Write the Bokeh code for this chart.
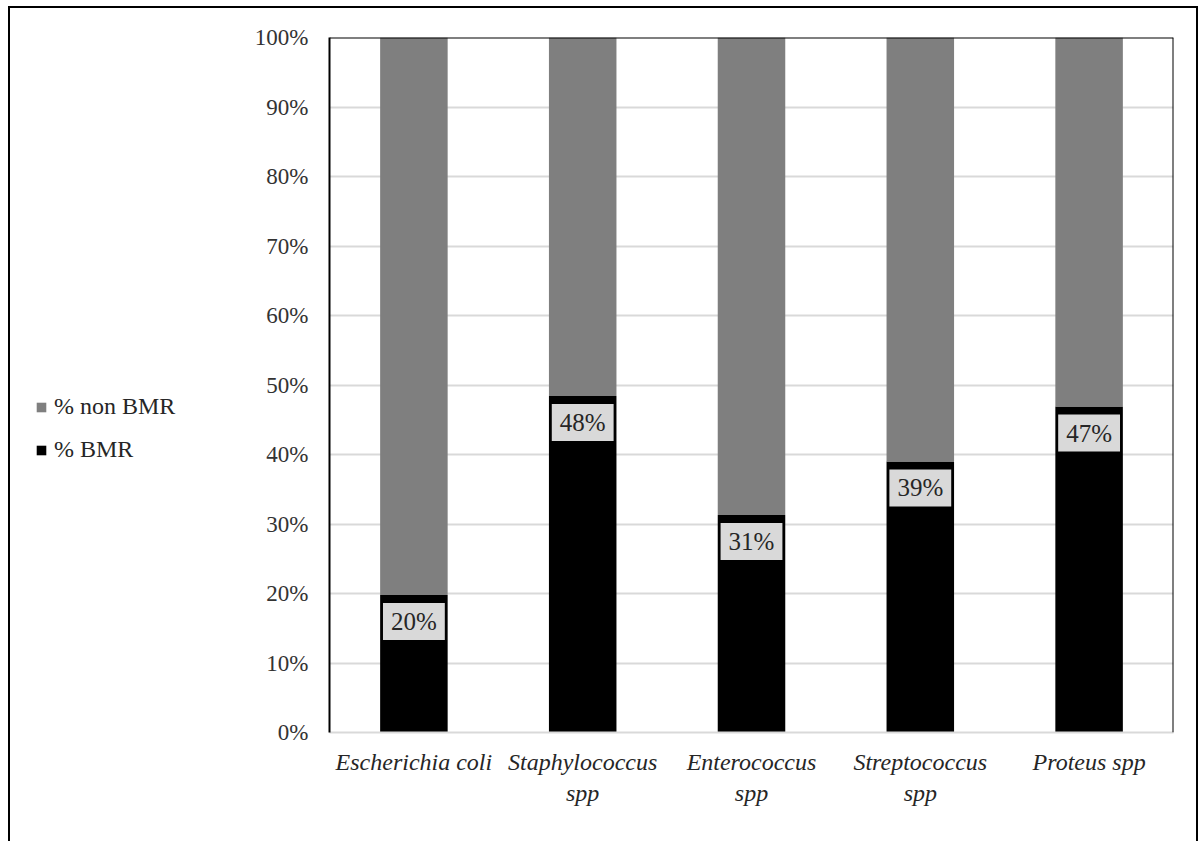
from bokeh.plotting import figure
from bokeh.layouts import row
from bokeh.models import (Legend, LegendItem, FixedTicker, PrintfTickFormatter,
                          Span, ColumnDataSource, CategoricalAxis, CustomJSTickFormatter)
from bokeh.core.properties import value
from bokeh.embed import file_html
from bokeh.resources import INLINE

# ---- data ----
categories = ["Escherichia coli", "Staphylococcus spp", "Enterococcus spp",
              "Streptococcus spp", "Proteus spp"]
label_line1 = ["Escherichia coli", "Staphylococcus", "Enterococcus",
               "Streptococcus", "Proteus spp"]
label_line2 = ["", "spp", "spp", "spp", ""]
bmr = [19.8, 48.4, 31.3, 39.0, 46.9]
non_bmr = [80.2, 51.6, 68.7, 61.0, 53.1]
bmr_labels = ["20%", "48%", "31%", "39%", "47%"]
series_names = ["% BMR", "% non BMR"]
series_colors = ["#000000", "#7f7f7f"]
y_ticks = [0, 10, 20, 30, 40, 50, 60, 70, 80, 90, 100]

FONT = "Liberation Serif"
LEG_W = 200

src = ColumnDataSource(dict(cat=categories, bmr=bmr, non_bmr=non_bmr, lab=bmr_labels))

# ---------------- main chart ----------------
p = figure(x_range=categories, y_range=(0, 100), width=1186 - LEG_W, height=833,
           output_backend="svg", toolbar_location=None,
           min_border_left=319 - LEG_W, min_border_right=23, min_border_top=29,
           min_border_bottom=109)
p.outline_line_color = None
p.background_fill_color = "white"
p.border_fill_color = "white"

p.vbar_stack(["bmr", "non_bmr"], x="cat", width=0.4, source=src,
             color=series_colors, line_color=None)

# data labels
p.text(x="cat", y="bmr", text="lab", source=src, text_align="center",
       text_baseline="top", y_offset=8, text_font=value(FONT),
       text_font_size="25px", text_color="#262626",
       background_fill_color="#d9d9d9",
       padding=dict(left=8, right=8, top=5, bottom=5))

# grid
p.xgrid.grid_line_color = None
p.ygrid.grid_line_color = "#d9d9d9"
p.ygrid.grid_line_width = 2
p.ygrid.ticker = FixedTicker(ticks=y_ticks)

# y axis
p.yaxis.ticker = FixedTicker(ticks=y_ticks)
p.yaxis.formatter = PrintfTickFormatter(format="%d%%")
p.yaxis.axis_line_color = "black"
p.yaxis.axis_line_width = 2
p.yaxis.major_tick_line_color = None
p.yaxis.minor_tick_line_color = None
p.yaxis.major_tick_out = 0
p.yaxis.minor_tick_out = 0
p.yaxis.major_label_standoff = 21
p.yaxis.major_label_text_font = FONT
p.yaxis.major_label_text_font_size = "23px"
p.yaxis.major_label_text_color = "#333333"

fmt_code = "return m[tick] ?? '';"

# x axis (first line of the category names)
xa = p.xaxis[0]
xa.axis_line_color = "#d9d9d9"
xa.axis_line_width = 2
xa.major_tick_line_color = None
xa.minor_tick_line_color = None
xa.major_tick_out = 0
xa.minor_tick_out = 0
xa.major_label_standoff = 16
xa.major_label_text_font = FONT
xa.major_label_text_font_style = "italic"
xa.major_label_text_font_size = "24px"
xa.major_label_text_color = "#262626"
xa.formatter = CustomJSTickFormatter(args=dict(m=dict(zip(categories, label_line1))),
                                     code=fmt_code)

# second line of the category names
xa2 = CategoricalAxis(axis_line_color=None, major_tick_line_color=None,
                      minor_tick_line_color=None, major_tick_out=0, minor_tick_out=0,
                      major_label_standoff=2,
                      major_label_text_font=FONT,
                      major_label_text_font_style="italic",
                      major_label_text_font_size="24px",
                      major_label_text_color="#262626",
                      formatter=CustomJSTickFormatter(
                          args=dict(m=dict(zip(categories, label_line2))),
                          code=fmt_code))
p.add_layout(xa2, "below")

# frame top / right black edges
p.add_layout(Span(location=100, dimension="width", line_color="black", line_width=2))
p.add_layout(Span(location=len(categories), dimension="height", line_color="black", line_width=2))

# ---------------- legend panel ----------------
lf = figure(x_range=categories, y_range=(0, 100), width=LEG_W, height=833,
            output_backend="svg", toolbar_location=None,
            x_axis_type=None, y_axis_type=None,
            min_border_left=0, min_border_right=0, min_border_top=0,
            min_border_bottom=0)
lf.outline_line_color = None
lf.xgrid.grid_line_color = None
lf.ygrid.grid_line_color = None
l_bmr, l_non = lf.vbar_stack(["bmr", "non_bmr"], x="cat", width=0.4, source=src,
                             color=series_colors, line_color=None)
l_bmr.visible = False
l_non.visible = False

legend = Legend(items=[LegendItem(label=series_names[1], renderers=[l_non]),
                       LegendItem(label=series_names[0], renderers=[l_bmr])],
                location=(25, 269), orientation="vertical",
                glyph_width=12, glyph_height=12, label_standoff=7,
                label_text_font=FONT, label_text_font_size="24px",
                label_text_color="#262626", spacing=16, padding=0, margin=0,
                border_line_color=None, background_fill_alpha=0,
                inactive_fill_alpha=0)
lf.add_layout(legend, "center")

layout = row(lf, p, spacing=0)
layout.styles = {"border-left": "2px solid black", "border-top": "2px solid black",
                 "border-right": "2px solid black", "margin-left": "8px",
                 "margin-top": "6px"}

open("out.html", "w").write(file_html(layout, INLINE))
